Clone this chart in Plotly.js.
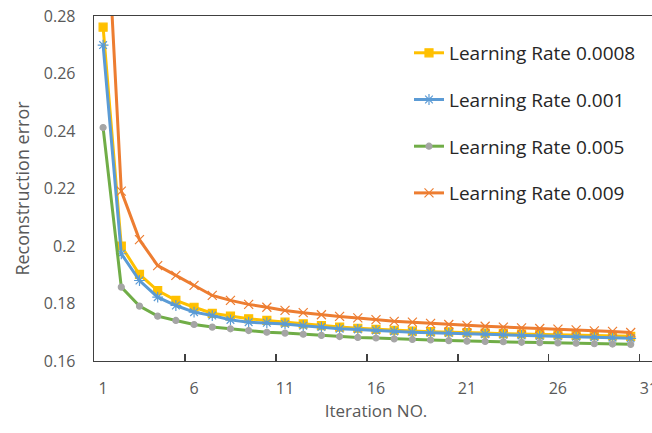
<!DOCTYPE html>
<html>
<head>
<meta charset="utf-8">
<script src="https://cdn.plot.ly/plotly-3.0.1.min.js"></script>
<style>
html,body{margin:0;padding:0;overflow:hidden;background:#fff;}
#chart{width:662px;height:433px;}
</style>
</head>
<body>
<div id="chart"></div>
<script>
var iterations = [1,2,3,4,5,6,7,8,9,10,11,12,13,14,15,16,17,18,19,20,21,22,23,24,25,26,27,28,29,30];
var lr0008 = [0.2761,0.2000,0.1901,0.1845,0.1811,0.1787,0.1766,0.1756,0.1747,0.1741,0.1735,0.1729,0.1723,0.1718,0.1714,0.1710,0.1707,0.1704,0.1702,0.1701,0.1699,0.1697,0.1695,0.1694,0.1692,0.1691,0.1689,0.1688,0.1687,0.1686];
var lr001  = [0.2699,0.1973,0.1880,0.1822,0.1793,0.1770,0.1758,0.1743,0.1735,0.1733,0.1729,0.1723,0.1718,0.1712,0.1710,0.1706,0.1703,0.1700,0.1698,0.1697,0.1695,0.1693,0.1691,0.1689,0.1687,0.1686,0.1684,0.1683,0.1681,0.1679];
var lr005  = [0.2412,0.1857,0.1791,0.1756,0.1741,0.1727,0.1718,0.1712,0.1706,0.1700,0.1697,0.1693,0.1689,0.1685,0.1682,0.1680,0.1677,0.1675,0.1673,0.1671,0.1669,0.1668,0.1667,0.1665,0.1664,0.1663,0.1662,0.1660,0.1659,0.1658];
var lr009  = [0.3400,0.2191,0.2022,0.1932,0.1898,0.1863,0.1828,0.1811,0.1797,0.1787,0.1776,0.1768,0.1761,0.1755,0.1750,0.1744,0.1738,0.1735,0.1731,0.1727,0.1724,0.1721,0.1718,0.1715,0.1713,0.1711,0.1708,0.1705,0.1703,0.1699];
var seriesNames = ['Learning Rate 0.0008','Learning Rate 0.001','Learning Rate 0.005','Learning Rate 0.009'];
var xTickVals = [0.5,5.5,10.5,15.5,20.5,25.5,30.5];
var xTickText = ['1','6','11','16','21','26','31'];
var yTickVals = [0.16,0.18,0.2,0.22,0.24,0.26,0.28];
var yTickText = ['0.16','0.18','0.2','0.22','0.24','0.26','0.28'];

var FONT = 'Open Sans, Noto Sans, sans-serif';
var TXT = '#595959';

function tr(y, name, color, sym, msize, mcolor, mline, grp){
  return {
    x: iterations, y: y, name: name, type: 'scatter', mode: 'lines+markers',
    legendgroup: grp,
    line: {color: color, width: 3},
    marker: {symbol: sym, size: msize, color: mcolor, line: {color: mline, width: 1.2}},
    cliponaxis: true
  };
}

var data = [
  tr(lr0008, seriesNames[0], '#FFC000', 'square', 8, '#FFC000', '#FFC000', 'a'),
  tr(lr001,  seriesNames[1], '#5B9BD5', 'asterisk-open', 9, '#5B9BD5', '#9DC3E6', 'b'),
  tr(lr005,  seriesNames[2], '#70AD47', 'circle', 6, '#A5A5A5', '#A5A5A5', 'c'),
  tr(lr009,  seriesNames[3], '#ED7D31', 'x-thin-open', 9, '#ED7D31', '#F4B183', 'd')
];

var layout = {
  width: 662, height: 433,
  margin: {l: 94, r: 4, t: 16, b: 72},
  paper_bgcolor: '#fff', plot_bgcolor: '#fff',
  font: {family: FONT, size: 16, color: TXT},
  showlegend: true,
  legend: {
    x: 0.5585, xanchor: 'left', y: 0.948, yanchor: 'top',
    font: {family: FONT, size: 19, color: '#262626'},
    traceorder: 'grouped', tracegroupgap: 19,
    bgcolor: 'rgba(0,0,0,0)'
  },
  xaxis: {
    range: [0.5, 31.5], autorange: false,
    tickmode: 'array', tickvals: xTickVals, ticktext: xTickText,
    ticks: 'inside', ticklen: 7, tickwidth: 1.3, tickcolor: '#404040',
    ticklabelshift: 9, ticklabelstandoff: 12,
    showgrid: false, zeroline: false,
    showline: true, linecolor: '#404040', linewidth: 1.3, mirror: true,
    tickfont: {family: FONT, size: 16, color: TXT},
    title: {text: 'Iteration NO.', font: {family: FONT, size: 17, color: TXT}, standoff: 5},
    automargin: false
  },
  yaxis: {
    range: [0.16, 0.28], autorange: false,
    tickmode: 'array', tickvals: yTickVals, ticktext: yTickText,
    ticks: '', ticklabelstandoff: 14,
    showgrid: false, zeroline: false,
    showline: true, linecolor: '#404040', linewidth: 1.3, mirror: true,
    tickfont: {family: FONT, size: 16, color: TXT},
    title: {text: 'Reconstruction error', font: {family: FONT, size: 18, color: TXT}, standoff: 9},
    automargin: false
  }
};

Plotly.newPlot('chart', data, layout, {displayModeBar: false, staticPlot: true});
</script>
</body>
</html>
